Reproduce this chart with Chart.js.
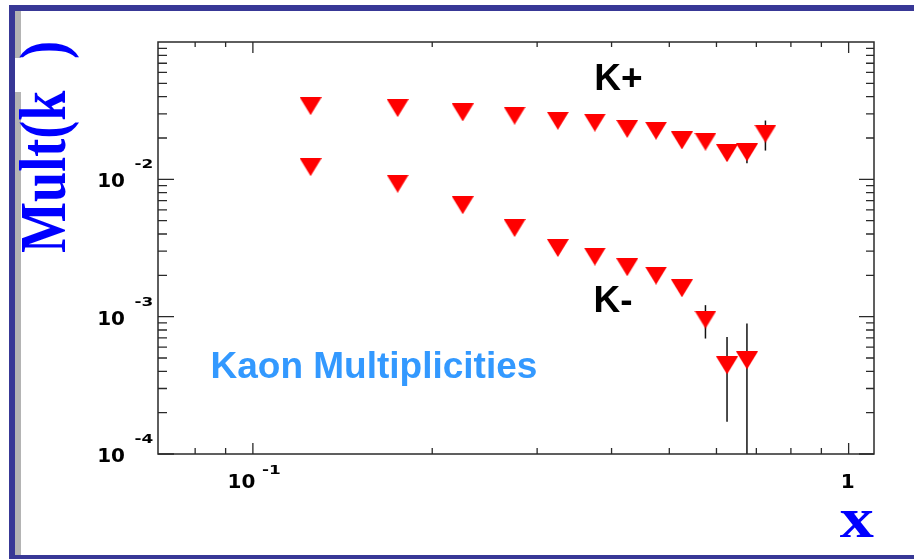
<!DOCTYPE html>
<html>
<head>
<meta charset="utf-8">
<title>Kaon Multiplicities</title>
<script src="https://cdn.jsdelivr.net/npm/chart.js@4.4.1/dist/chart.umd.min.js"></script>
<style>
  html, body { margin: 0; padding: 0; background: #ffffff; }
  canvas { display: block; }
</style>
</head>
<body>
<canvas id="c" width="914" height="559"></canvas>
<script>
// x bin centres (Bjorken x)
const xBins = [0.125, 0.175, 0.225, 0.275, 0.325, 0.375, 0.425, 0.475, 0.525, 0.575, 0.625, 0.675, 0.725];

// K+ multiplicities and statistical errors
const kPlus    = [0.0341, 0.0330, 0.0307, 0.0291, 0.0267, 0.0259, 0.0233, 0.0226, 0.0192, 0.0188, 0.0155, 0.0157, 0.0215];
const kPlusErr = [0.0006, 0.0006, 0.0006, 0.0006, 0.0006, 0.0007, 0.0007, 0.0008, 0.0009, 0.0012, 0.0018, 0.0026, 0.0053];

// K- multiplicities and statistical errors (last bin empty)
const kMinus    = [0.01226, 0.00929, 0.00648, 0.00442, 0.00316, 0.00274, 0.00229, 0.00199, 0.00161, 0.000953, 0.000442, 0.000481];
const kMinusErr = [0.00030, 0.00025, 0.00020, 0.00015, 0.00012, 0.00011, 0.00010, 0.00010, 0.00012, 0.00026, 0.00027, 0.00041];

// axis ranges and labelled decades
const xRange = [0.0693, 1.103];
const yRange = [1e-4, 0.1];
const xTickValues = [0.1, 1];
const xTickBases  = ['10', '1'];
const xTickExps   = ['-1', ''];
const yTickValues = [1e-2, 1e-3, 1e-4];
const yTickExps   = ['-2', '-3', '-4'];

const BORDER_BLUE = '#383896';
const AXIS_COLOR = '#2a2a2a';

function makeTriangleDown(w, h, color) {
  const c = document.createElement('canvas');
  c.width = w; c.height = h;
  const g = c.getContext('2d');
  g.fillStyle = color;
  g.beginPath();
  g.moveTo(0, 0);
  g.lineTo(w, 0);
  g.lineTo(w / 2, h);
  g.closePath();
  g.fill();
  return c;
}
const marker = makeTriangleDown(22, 18, '#ff0000');

const toPoints = (ys) => ys.map((y, i) => ({ x: xBins[i], y: y }));

// page frame: blue border with grey inner strip
const framePlugin = {
  id: 'pageFrame',
  beforeDraw(chart) {
    const ctx = chart.ctx;
    ctx.save();
    ctx.fillStyle = '#ffffff';
    ctx.fillRect(0, 0, chart.width, chart.height);
    ctx.fillStyle = BORDER_BLUE;
    ctx.fillRect(9, 5, 905, 6);
    ctx.fillRect(9, 5, 6, 554);
    ctx.fillRect(9, 555, 905, 4);
    ctx.fillStyle = '#b4b4b4';
    ctx.fillRect(15, 11, 6, 544);
    ctx.fillStyle = '#ffffff';
    ctx.fillRect(15, 58, 7, 34);
    ctx.restore();
  }
};

// vertical error bars from the error arrays
const errorBarPlugin = {
  id: 'errorBars',
  beforeDatasetsDraw(chart) {
    const ctx = chart.ctx;
    const xs = chart.scales.x, ys = chart.scales.y;
    const a = chart.chartArea;
    const sets = [[kPlus, kPlusErr], [kMinus, kMinusErr]];
    ctx.save();
    ctx.beginPath();
    ctx.rect(a.left, a.top, a.right - a.left, a.bottom - a.top);
    ctx.clip();
    ctx.strokeStyle = '#111111';
    ctx.lineWidth = 1.5;
    sets.forEach(([vals, errs]) => {
      vals.forEach((v, i) => {
        const px = xs.getPixelForValue(xBins[i]);
        const hi = v + errs[i];
        const lo = v - errs[i];
        const pyHi = ys.getPixelForValue(hi);
        const pyLo = lo > 0 ? ys.getPixelForValue(lo) : a.bottom + 5;
        ctx.beginPath();
        ctx.moveTo(px, pyHi);
        ctx.lineTo(px, pyLo);
        ctx.stroke();
      });
    });
    ctx.restore();
  }
};

function drawExponent(ctx, text, x, y) {
  ctx.save();
  ctx.translate(x, y);
  ctx.scale(1.3, 1);
  ctx.font = 'bold 13px "DejaVu Sans"';
  ctx.textAlign = 'left';
  ctx.fillText(text, 0, 0);
  ctx.restore();
}

// axes box, inward ticks, labels and annotations
const axesPlugin = {
  id: 'rootAxes',
  afterDatasetsDraw(chart) {
    const ctx = chart.ctx;
    const xs = chart.scales.x, ys = chart.scales.y;
    const a = chart.chartArea;
    ctx.save();
    ctx.strokeStyle = AXIS_COLOR;
    ctx.lineWidth = 1.5;
    ctx.strokeRect(a.left, a.top, a.right - a.left, a.bottom - a.top);

    ctx.lineWidth = 1.3;
    ctx.beginPath();
    // y ticks, per decade
    for (let e = -4; e <= -2; e++) {
      for (let k = 1; k <= 9; k++) {
        const v = k * Math.pow(10, e);
        if (v < yRange[0] || v > yRange[1]) continue;
        const py = ys.getPixelForValue(v);
        const major = k === 1;
        ctx.moveTo(a.left, py); ctx.lineTo(a.left + (major ? 16 : 9), py);
        ctx.moveTo(a.right, py); ctx.lineTo(a.right - (major ? 15 : 8), py);
      }
    }
    // x ticks
    for (let e = -2; e <= 0; e++) {
      for (let k = 1; k <= 9; k++) {
        const v = k * Math.pow(10, e);
        if (v < 0.075 || v > xRange[1]) continue;
        const px = xs.getPixelForValue(v);
        const major = k === 1;
        ctx.moveTo(px, a.bottom); ctx.lineTo(px, a.bottom - (major ? 11 : 6));
        ctx.moveTo(px, a.top); ctx.lineTo(px, a.top + (major ? 11 : 5));
      }
    }
    ctx.stroke();

    // tick labels
    ctx.fillStyle = '#000000';
    const baseFont = 'bold 20px "DejaVu Sans"';
    yTickValues.forEach((v, i) => {
      const py = ys.getPixelForValue(v);
      ctx.font = baseFont; ctx.textAlign = 'right'; ctx.textBaseline = 'alphabetic';
      ctx.fillText('10', 125, py + 8);
      drawExponent(ctx, yTickExps[i], 134.5, py - 11);
    });
    xTickValues.forEach((v, i) => {
      const px = xs.getPixelForValue(v);
      ctx.font = baseFont; ctx.textBaseline = 'alphabetic';
      if (xTickExps[i]) {
        ctx.textAlign = 'right';
        ctx.fillText(xTickBases[i], px + 2.5, 487.5);
        drawExponent(ctx, xTickExps[i], px + 9, 473.5);
      } else {
        ctx.textAlign = 'center';
        ctx.fillText(xTickBases[i], px - 1, 487.5);
      }
    });

    // annotations
    ctx.textAlign = 'left';
    ctx.fillStyle = '#000000';
    ctx.font = 'bold 37px "Liberation Sans", Arial, sans-serif';
    ctx.fillText('K+', 594.3, 90);
    ctx.fillText('K-', 593.5, 311.7);
    ctx.fillStyle = '#3399ff';
    ctx.font = 'bold 37px "Liberation Sans", Arial, sans-serif';
    ctx.fillText('Kaon Multiplicities', 210.5, 377.5);

    // axis titles
    ctx.fillStyle = '#0000ff';
    ctx.save();
    ctx.translate(874, 536.7);
    ctx.scale(1.22, 1);
    ctx.font = 'bold 56px "Liberation Serif", "Times New Roman", serif';
    ctx.textAlign = 'right';
    ctx.fillText('x', 0, 0);
    ctx.restore();

    ctx.save();
    ctx.translate(65, 253);
    ctx.rotate(-Math.PI / 2);
    ctx.scale(0.82, 1);
    ctx.font = 'bold 66px "Liberation Serif", "Times New Roman", serif';
    ctx.textAlign = 'left';
    ctx.fillText('Mult(k', 0, 0);
    ctx.fillText(')', 194 / 0.82, 0);
    ctx.restore();

    ctx.restore();
  }
};

new Chart(document.getElementById('c'), {
  type: 'scatter',
  data: {
    datasets: [
      { label: 'K+', data: toPoints(kPlus), pointStyle: marker, pointRadius: 11, showLine: false },
      { label: 'K-', data: toPoints(kMinus), pointStyle: marker, pointRadius: 11, showLine: false }
    ]
  },
  options: {
    responsive: false,
    devicePixelRatio: 1,
    animation: false,
    events: [],
    layout: { padding: { left: 158, top: 42, right: 40, bottom: 105 } },
    plugins: { legend: { display: false }, tooltip: { enabled: false } },
    scales: {
      x: { type: 'logarithmic', min: xRange[0], max: xRange[1], display: false },
      y: { type: 'logarithmic', min: yRange[0], max: yRange[1], display: false }
    }
  },
  plugins: [framePlugin, errorBarPlugin, axesPlugin]
});
</script>
</body>
</html>
